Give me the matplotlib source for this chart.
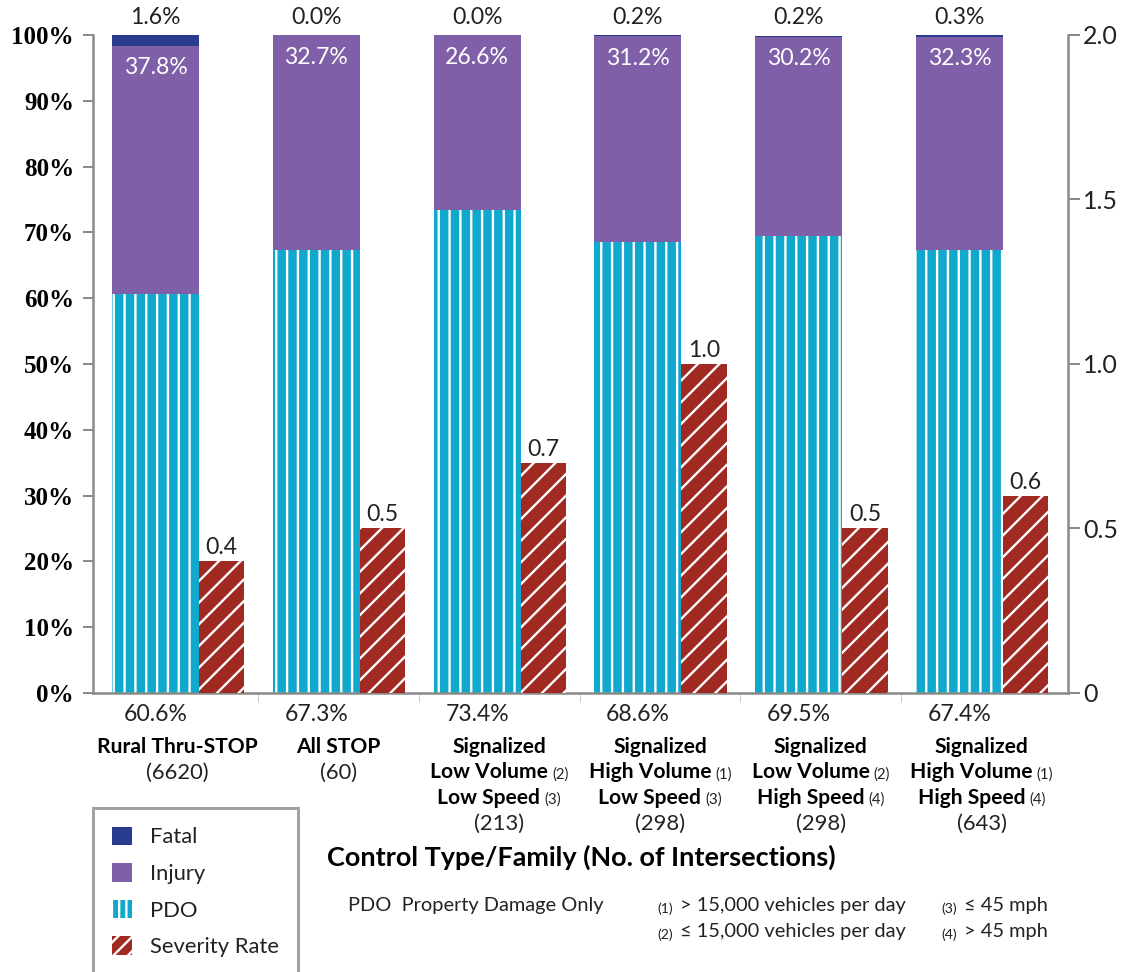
import matplotlib.pyplot as plt
from matplotlib.patches import Patch
from matplotlib.transforms import blended_transform_factory, offset_copy
from matplotlib.ticker import FuncFormatter

# crash shares (%) and severity rate by control type
families = ['Rural Thru-STOP', 'All STOP', 'Signalized', 'Signalized', 'Signalized', 'Signalized']
family_lines = [
    [],
    [],
    [('Low Volume', '(2)'), ('Low Speed', '(3)')],
    [('High Volume', '(1)'), ('Low Speed', '(3)')],
    [('Low Volume', '(2)'), ('High Speed', '(4)')],
    [('High Volume', '(1)'), ('High Speed', '(4)')],
]
counts = [6620, 60, 213, 298, 298, 643]
pdo = [60.6, 67.3, 73.4, 68.6, 69.5, 67.4]
injury = [37.8, 32.7, 26.6, 31.2, 30.2, 32.3]
fatal = [1.6, 0.0, 0.0, 0.2, 0.2, 0.3]
severity = [0.4, 0.5, 0.7, 1.0, 0.5, 0.6]

C_FATAL = '#2a3c8e'
C_INJ = '#7f5fa8'
C_PDO = '#11a8ce'
C_SEV = '#a02a21'
GRID = '#8a8a8a'
TXT = '#222222'

DPI = 130
W, H = 1121, 972
plt.rcParams['hatch.linewidth'] = 1.3
plt.rcParams['font.family'] = ['Lato', 'DejaVu Sans']


def pt(px):
    return px * 72 / DPI


fig = plt.figure(figsize=(W / DPI, H / DPI), dpi=DPI)
ax = fig.add_axes([93 / W, 1 - 693 / H, (1068 - 93) / W, (693 - 35) / H])
ax2 = ax.twinx()

x = range(len(pdo))
xs = [i - 0.1375 for i in x]
xr = [i + 0.274 for i in x]
bw, rw = 0.541, 0.282

ax.bar(xs, pdo, bw, color=C_PDO, edgecolor='white', linewidth=0, hatch='||')
ax.bar(xs, injury, bw, bottom=pdo, color=C_INJ, linewidth=0)
tops = [p + j for p, j in zip(pdo, injury)]
ax.bar(xs, fatal, bw, bottom=tops, color=C_FATAL, linewidth=0)
ax2.bar(xr, severity, rw, color=C_SEV, edgecolor='white', linewidth=0, hatch='//')

ax.set_xlim(-0.526, 5.537)
ax.set_ylim(0, 100)
ax2.set_ylim(0, 2.0)

# left axis
ax.set_yticks(range(0, 101, 10))
ax.yaxis.set_major_formatter(FuncFormatter(lambda v, p: f'{v:.0f}%'))
for lab in ax.get_yticklabels():
    lab.set_fontfamily('Liberation Serif')
    lab.set_fontweight('bold')
ax.tick_params(axis='y', length=pt(10), width=pt(2), color=GRID, labelsize=pt(25),
               labelcolor='black', pad=pt(9))
# right axis
ax2.set_yticks([0, 0.5, 1.0, 1.5, 2.0])
ax2.set_yticklabels(['0', '0.5', '1.0', '1.5', '2.0'])
ax2.tick_params(axis='y', length=pt(12), width=pt(2), color=GRID, labelsize=pt(25),
                labelcolor=TXT, pad=pt(3))

ax.set_xticks([])
ax.set_xticks([i + 0.5 for i in range(len(pdo) - 1)], minor=True)
ax.tick_params(axis='x', which='minor', length=pt(9), width=pt(1), color='#c8c8c8')
for a in (ax, ax2):
    a.spines['top'].set_visible(False)
    for s in ('left', 'right', 'bottom'):
        a.spines[s].set_color(GRID)
        a.spines[s].set_linewidth(pt(2.5))
ax.spines['right'].set_visible(False)
ax2.spines['left'].set_visible(False)
ax2.spines['bottom'].set_visible(False)

# value labels
for i in x:
    ax.annotate(f'{fatal[i]:.1f}%', (xs[i], 100), xytext=(0, pt(17)),
                textcoords='offset points', ha='center', va='center',
                fontsize=pt(23), color=TXT)
    ax.annotate(f'{injury[i]:.1f}%', (xs[i], tops[i]), xytext=(0, -pt(22)),
                textcoords='offset points', ha='center', va='center',
                fontsize=pt(23), color='white')
    ax2.annotate(f'{severity[i]:.1f}', (xr[i], severity[i]), xytext=(0, pt(3)),
                 textcoords='offset points', ha='center', va='bottom',
                 fontsize=pt(23), color=TXT)

# category labels below the axis
tb = blended_transform_factory(ax.transData, fig.transFigure)


def fy(py):
    return 1 - py / H


pieces = []
for i in x:
    ax.text(xs[i], fy(721), f'{pdo[i]:.1f}%', transform=tb, ha='center',
            va='baseline', fontsize=pt(23), color=TXT)
    base = 753
    ax.text(i, fy(base), families[i], transform=tb, ha='center', va='baseline',
            fontsize=pt(21), fontweight='bold', color='black')
    for k, (main, sub) in enumerate(family_lines[i]):
        yy = fy(base + 25.5 * (k + 1))
        t1 = ax.text(i, yy, main, transform=tb, ha='left', va='baseline',
                     fontsize=pt(21), fontweight='bold', color='black')
        t2 = ax.text(i, yy, sub, transform=tb, ha='left', va='baseline',
                     fontsize=pt(15), color=TXT)
        pieces.append((t1, t2))
    n = len(family_lines[i])
    ax.text(i, fy(base + 25.5 * (n + 1)), f'({counts[i]})', transform=tb,
            ha='center', va='baseline', fontsize=pt(22), color=TXT)

fig.canvas.draw()
r = fig.canvas.get_renderer()
for t1, t2 in pieces:
    w1 = t1.get_window_extent(r).width
    w2 = t2.get_window_extent(r).width
    gap = 4
    shift = -(w1 + gap + w2) / 2
    t1.set_transform(offset_copy(tb, fig=fig, x=shift, y=0, units='dots'))
    t2.set_transform(offset_copy(tb, fig=fig, x=shift + w1 + gap, y=0, units='dots'))

fig.text(327 / W, fy(857), 'Control Type/Family (No. of Intersections)', ha='left',
         va='center', fontsize=pt(27), fontweight='bold', color='black')

# footnotes
fig.text(348 / W, fy(906), 'PDO  Property Damage Only', ha='left', va='center',
         fontsize=pt(20), color=TXT)
notes = [(657, 906, '(1)', '> 15,000 vehicles per day'),
         (657, 932, '(2)', '≤ 15,000 vehicles per day'),
         (941, 906, '(3)', '≤ 45 mph'),
         (941, 932, '(4)', '> 45 mph')]
for nx, ny, sub, txt in notes:
    fig.text(nx / W, fy(ny + 3), sub, ha='left', va='center', fontsize=pt(14), color=TXT)
    fig.text((nx + 23) / W, fy(ny), txt, ha='left', va='center', fontsize=pt(20), color=TXT)

handles = [Patch(facecolor=C_FATAL, linewidth=0),
           Patch(facecolor=C_INJ, linewidth=0),
           Patch(facecolor=C_PDO, edgecolor='white', linewidth=0, hatch='|||'),
           Patch(facecolor=C_SEV, edgecolor='white', linewidth=0, hatch='///')]
leg = fig.legend(handles, ['Fatal', 'Injury', 'PDO', 'Severity Rate'],
                 loc='upper left', bbox_to_anchor=(93 / W, fy(808)),
                 fontsize=pt(22), frameon=True, fancybox=False,
                 handlelength=0.9, handleheight=0.9, labelspacing=0.72,
                 borderpad=0.85, handletextpad=0.85, borderaxespad=0)
leg.get_frame().set_edgecolor(GRID)
leg.get_frame().set_linewidth(pt(3))
for t in leg.get_texts():
    t.set_color(TXT)

fig.savefig('out.png', dpi=DPI)
